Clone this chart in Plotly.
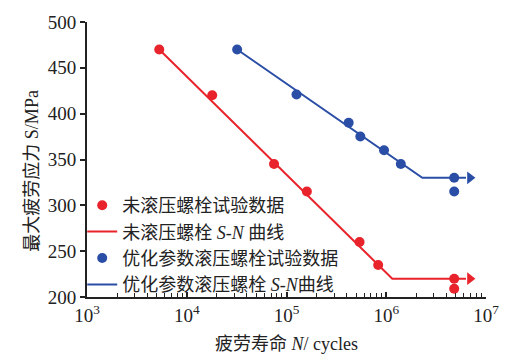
import plotly.graph_objects as go
import numpy as np

# Data
red_N = [5.3e3, 1.8e4, 7.5e4, 1.6e5, 5.4e5, 8.3e5, 4.8e6, 4.8e6]
red_S = [470, 420, 345, 315, 260, 235, 220, 209]
red_curve_N = [5.3e3, 1.15e6, 6.3e6]
red_curve_S = [470, 220, 220]

blue_N = [3.2e4, 1.26e5, 4.2e5, 5.5e5, 9.5e5, 1.4e6, 4.8e6, 4.8e6]
blue_S = [470, 421, 390, 375, 360, 345, 330, 315]
blue_curve_N = [3.2e4, 2.3e6, 6.3e6]
blue_curve_S = [470, 330, 330]

arrow_N = 6.9e6

x_tickvals = [1e3, 1e4, 1e5, 1e6, 1e7]
x_ticktext = ["10<sup>3</sup>", "10<sup>4</sup>", "10<sup>5</sup>", "10<sup>6</sup>", "10<sup>7</sup>"]
y_tickvals = [200, 250, 300, 350, 400, 450, 500]

labels = ["未滚压螺栓试验数据", "未滚压螺栓 <i>S</i>-<i>N</i> 曲线",
          "优化参数滚压螺栓试验数据", "优化参数滚压螺栓 <i>S</i>-<i>N</i>曲线"]
x_title = "疲劳寿命 <i>N</i>/ cycles"
y_title = "最大疲劳应力 S/MPa"

RED = "#e8232b"
BLUE = "#2a4ea6"

minor_vals = [m * 10 ** e for e in range(3, 7) for m in range(2, 10)]

fig = go.Figure()

# curves
fig.add_trace(go.Scatter(x=red_curve_N, y=red_curve_S, mode="lines",
                         line=dict(color=RED, width=2), name=labels[1],
                         legendrank=2))
fig.add_trace(go.Scatter(x=blue_curve_N, y=blue_curve_S, mode="lines",
                         line=dict(color=BLUE, width=2), name=labels[3],
                         legendrank=4))
# arrows
fig.add_trace(go.Scatter(x=[arrow_N], y=[red_curve_S[-1]], mode="markers",
                         marker=dict(symbol="triangle-right", size=11, color=RED),
                         showlegend=False, hoverinfo="skip"))
fig.add_trace(go.Scatter(x=[arrow_N], y=[blue_curve_S[-1]], mode="markers",
                         marker=dict(symbol="triangle-right", size=11, color=BLUE),
                         showlegend=False, hoverinfo="skip"))
# points
fig.add_trace(go.Scatter(x=red_N, y=red_S, mode="markers", name=labels[0],
                         marker=dict(size=10, color=RED),
                         legendrank=1))
fig.add_trace(go.Scatter(x=blue_N, y=blue_S, mode="markers", name=labels[2],
                         marker=dict(size=10, color=BLUE),
                         legendrank=3))

serif = "'Liberation Serif', 'Times New Roman', 'Noto Sans CJK SC', serif"
cjk = "'Liberation Serif', 'Noto Sans CJK SC', serif"

fig.update_layout(
    width=511, height=363,
    margin=dict(l=87, r=21, t=16, b=63),
    paper_bgcolor="white", plot_bgcolor="white",
    showlegend=True,
    legend=dict(x=-0.012, y=0.40, xanchor="left", yanchor="top",
                bgcolor="rgba(0,0,0,0)", font=dict(family=cjk, size=18, color="#222"),
                tracegroupgap=0, itemwidth=30),
    font=dict(family=serif, color="#222"),
    annotations=[dict(text=y_title, textangle=-90, xref="paper", yref="paper",
                      x=-0.14, y=0.46, xanchor="center", yanchor="middle",
                      showarrow=False, font=dict(family=cjk, size=18, color="#222"))],
)

fig.update_xaxes(
    type="log", range=[3, 7],
    tickvals=x_tickvals, ticktext=x_ticktext,
    ticks="inside", ticklen=5, tickwidth=1.5, tickcolor="#222",
    minor=dict(tickvals=minor_vals, ticks="inside", ticklen=4, tickwidth=1.2, tickcolor="#222"),
    showline=True, linecolor="#222", linewidth=2,
    showgrid=False, zeroline=False,
    tickfont=dict(family=serif, size=19, color="#222"),
    title=dict(text=x_title, font=dict(family=cjk, size=18, color="#222"), standoff=13),
)
fig.update_yaxes(
    range=[200, 500], tickvals=y_tickvals,
    ticks="outside", ticklen=5, tickwidth=2, tickcolor="#222",
    showline=True, linecolor="#222", linewidth=2,
    showgrid=False, zeroline=False,
    tickfont=dict(family=serif, size=19, color="#222"),
)

fig.write_html("out.html")
